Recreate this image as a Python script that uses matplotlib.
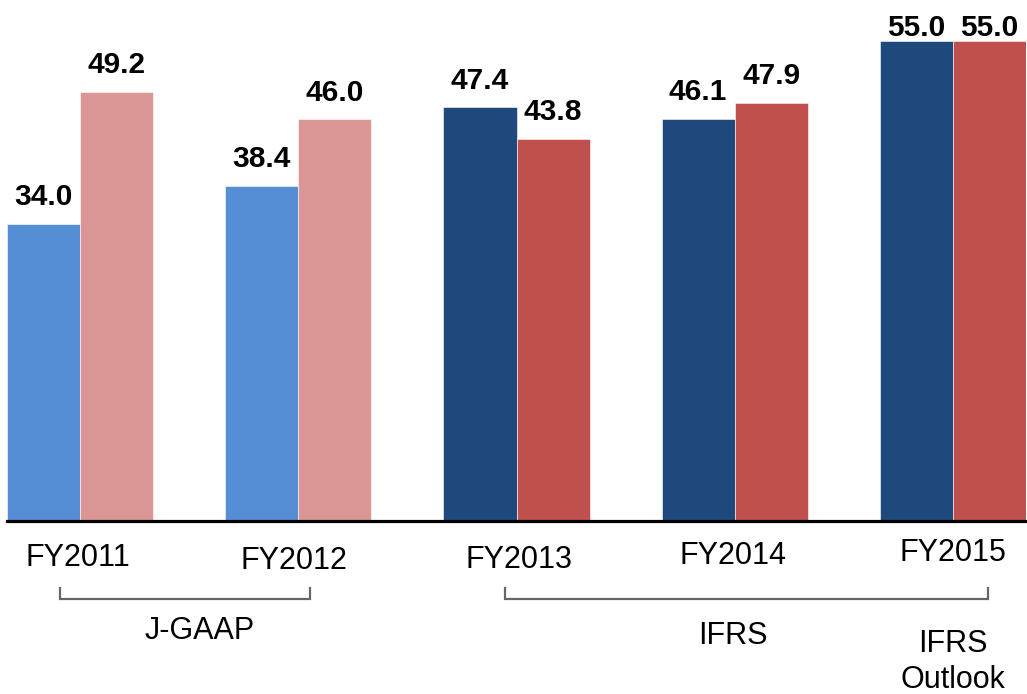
import matplotlib
matplotlib.use("Agg")
import matplotlib.pyplot as plt
from matplotlib.lines import Line2D
import numpy as np

plt.rcParams['font.family'] = ['Liberation Sans', 'DejaVu Sans']

# ---- data ----
categories = ["FY2011", "FY2012", "FY2013", "FY2014", "FY2015"]
series_a = [34.0, 38.4, 47.4, 46.1, 55.0]
series_b = [49.2, 46.0, 43.8, 47.9, 55.0]
colors_a = ["#558ED5", "#558ED5", "#1F497D", "#1F497D", "#1F497D"]
colors_b = ["#D99694", "#D99694", "#C0504D", "#C0504D", "#C0504D"]
group_labels = ["J-GAAP", "IFRS", "IFRS\nOutlook"]

# ---- style / layout ----
W, H = 1027, 694
fig = plt.figure(figsize=(W / 100, H / 100), dpi=100)

def fx(px):
    return px / W

def fy(py):
    return 1 - py / H

base_px = 520.5
ax = fig.add_axes([fx(7), fy(base_px), fx(1026) - fx(7), fy(0) - fy(base_px)])

w = 0.335
x = np.arange(len(categories))
ax.bar(x - w / 2, series_a, width=w, color=colors_a, edgecolor="white", linewidth=0.4, zorder=2)
ax.bar(x + w / 2, series_b, width=w, color=colors_b, edgecolor="white", linewidth=0.4, zorder=2)

ymax = 59.7
ax.set_xlim(-w, len(categories) - 1 + w)
ax.set_ylim(0, ymax)

# value labels
off = 2.13
cap = 55.6
for xs, vals in ((x - w / 2, series_a), (x + w / 2, series_b)):
    for xi, v in zip(xs, vals):
        ax.text(xi, min(v + off, cap), f"{v:.1f}", ha="center", va="baseline",
                fontsize=21.5, fontweight="bold", color="black", clip_on=False)

for s in ("top", "left", "right"):
    ax.spines[s].set_visible(False)
ax.spines["bottom"].set_linewidth(2.3)
ax.spines["bottom"].set_color("black")
ax.spines["bottom"].set_zorder(3)
ax.set_yticks([])
ax.set_xticks(x)
ax.set_xticklabels([])
ax.tick_params(axis="x", length=0)

# category labels (slightly staggered as in the reference)
lab_dx = [-2, -4, 3, -2, 0]          # px
lab_base = [566, 569, 568, 564.5, 561]  # px baseline
for i, cat in enumerate(categories):
    ax.annotate(cat, xy=(x[i], 0), xycoords="data",
                xytext=(lab_dx[i] * 0.72, -(lab_base[i] - base_px) * 0.72),
                textcoords="offset points", ha="center", va="baseline",
                fontsize=22, color="black", annotation_clip=False)

# brackets
brk_col = "#666666"
def bracket(x0, x1, ytop, ybot):
    fig.add_artist(Line2D([fx(x0), fx(x0), fx(x1), fx(x1)],
                          [fy(ytop), fy(ybot), fy(ybot), fy(ytop)],
                          color=brk_col, linewidth=1.6, solid_joinstyle="miter"))

bracket(60, 310, 588, 599)
bracket(505, 988, 588, 599)

fig.text(fx(200), fy(639), group_labels[0], ha="center", va="baseline", fontsize=22)
fig.text(fx(733), fy(644), group_labels[1], ha="center", va="baseline", fontsize=22)
fig.text(fx(953), fy(662), group_labels[2], ha="center", va="center",
         multialignment="center", fontsize=22, linespacing=1.3)

fig.savefig("out.png", dpi=100)
